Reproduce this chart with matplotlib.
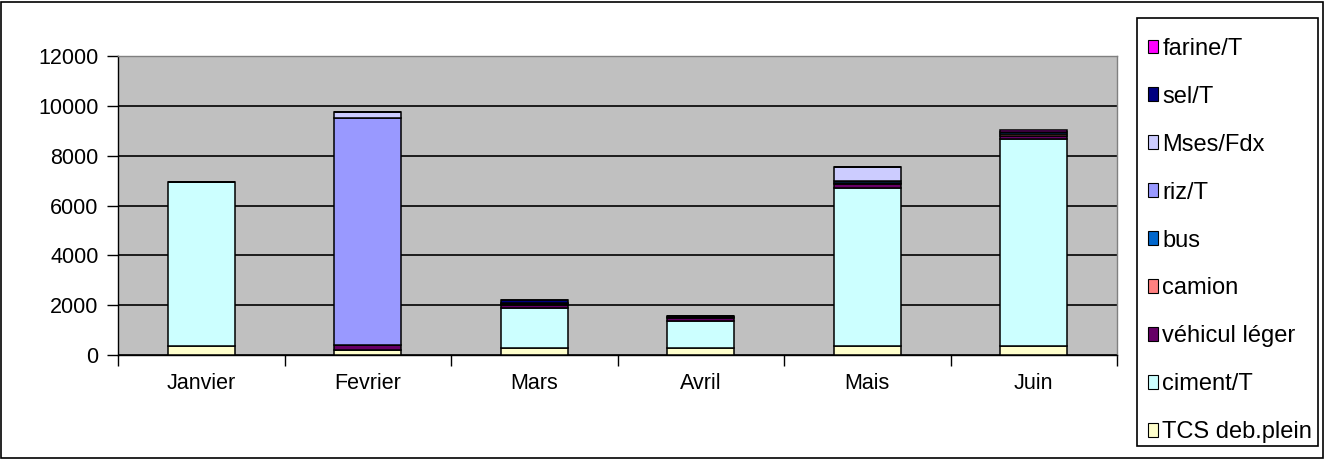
import matplotlib
matplotlib.use("Agg")
import matplotlib.pyplot as plt
from matplotlib.patches import Patch, Rectangle
import numpy as np

months = ["Janvier", "Fevrier", "Mars", "Avril", "Mais", "Juin"]
tcs = [350, 200, 300, 300, 350, 350]
ciment = [6600, 0, 1600, 1070, 6350, 8300]
vehicul = [0, 200, 100, 100, 150, 150]
camion = [0, 0, 50, 50, 70, 75]
bus = [0, 0, 50, 50, 70, 75]
riz = [0, 9100, 0, 0, 0, 0]
mses = [0, 250, 0, 0, 560, 0]
sel = [0, 0, 100, 0, 0, 0]
farine = [0, 0, 0, 0, 0, 100]

series_names = ["TCS deb.plein", "ciment/T", "véhicul léger", "camion", "bus",
                "riz/T", "Mses/Fdx", "sel/T", "farine/T"]
series_vals = [tcs, ciment, vehicul, camion, bus, riz, mses, sel, farine]
colors = ["#FFFFCC", "#CCFFFF", "#660066", "#FF8080", "#0066CC",
          "#9999FF", "#CCCCFF", "#000080", "#FF00FF"]
yticks = [0, 2000, 4000, 6000, 8000, 10000, 12000]

plt.rcParams['font.family'] = ['Liberation Sans', 'DejaVu Sans']

W, H = 1325, 459
fig = plt.figure(figsize=(W / 100, H / 100), dpi=100)
ax = fig.add_axes([118 / W, 1 - 355 / H, (1117 - 118) / W, (355 - 56) / H])
ax.set_facecolor("#C0C0C0")

x = np.arange(len(months))
bottom = np.zeros(len(months))
for name, vals, c in zip(series_names, series_vals, colors):
    v = np.array(vals, dtype=float)
    ax.bar(x, v, 0.4, bottom=bottom, color=c, edgecolor="black",
           linewidth=1.1, zorder=3)
    bottom += v

ax.set_xlim(-0.5, len(months) - 0.5)
ax.set_ylim(0, 12000)
ax.set_yticks(yticks)
ax.set_yticklabels([str(t) for t in yticks], fontsize=15.5)
ax.yaxis.grid(True, color="black", linewidth=1.2, zorder=1)
ax.set_axisbelow(True)

ax.set_xticks(x)
ax.set_xticklabels(months, fontsize=15.5)
ax.tick_params(axis="x", which="major", length=0, pad=13)
ax.set_xticks(np.arange(-0.5, len(months), 1.0), minor=True)
ax.tick_params(axis="x", which="minor", length=8, width=1, color="black")
ax.tick_params(axis="y", length=8, width=1, color="black", pad=6)

for s in ["top", "right"]:
    ax.spines[s].set_color("#808080")
    ax.spines[s].set_linewidth(1)
for s in ["left", "bottom"]:
    ax.spines[s].set_color("black")
    ax.spines[s].set_linewidth(1)

# legend frame
fig.patches.append(Rectangle((1137 / W, 1 - 446 / H), (1318 - 1137) / W,
                             (446 - 18) / H, transform=fig.transFigure,
                             facecolor="white", edgecolor="black",
                             linewidth=1.2))

handles = [Patch(facecolor=c, edgecolor="black", linewidth=0.8)
           for c in colors[::-1]]
leg = fig.legend(handles, series_names[::-1], loc="upper left",
                 bbox_to_anchor=(1137 / W, 1 - 27 / H), borderaxespad=0,
                 fontsize=17, frameon=False,
                 handlelength=0.42, handleheight=0.5, handletextpad=0.2,
                 labelspacing=1.1, borderpad=0.45)

fig.patches.append(Rectangle((1 / W, 1 / H), (W - 3) / W, (H - 3) / H,
                             transform=fig.transFigure, fill=False,
                             edgecolor="black", linewidth=1.2))

fig.savefig("out.png", dpi=100)
